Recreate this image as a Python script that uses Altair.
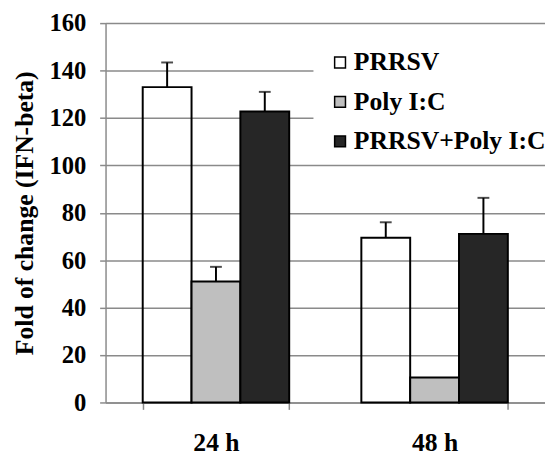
import altair as alt
import pandas as pd

times = ["24 h", "48 h"]
series = ["PRRSV", "Poly I:C", "PRRSV+Poly I:C"]
prrsv = [133.0, 69.5]
prrsv_err = [10.4, 6.5]
polyic = [51.0, 10.5]
polyic_err = [6.2, 0.0]
combo = [122.7, 71.1]
combo_err = [8.3, 15.2]
y_ticks = [0, 20, 40, 60, 80, 100, 120, 140, 160]
colors = ["transparent", "#bfbfbf", "#262626"]

rows = []
for s, vals, errs in [(series[0], prrsv, prrsv_err), (series[1], polyic, polyic_err), (series[2], combo, combo_err)]:
    for t, v, e in zip(times, vals, errs):
        rows.append({"time": t, "series": s, "value": v, "err": e, "top": v + e})
df = pd.DataFrame(rows)

FONT = "Liberation Serif, Times New Roman, Tinos, DejaVu Serif, serif"
GRAY = "#8a8a8a"

x = alt.X("time:N", sort=times, title=None,
          scale=alt.Scale(paddingInner=0.33, paddingOuter=0.17),
          axis=alt.Axis(labelAngle=0, labelFontSize=26, labelFont=FONT, labelFontWeight="bold",
                        labelColor="black", labelPadding=21, tickBand="extent", tickSize=7,
                        tickColor=GRAY, tickWidth=1.5, domainColor=GRAY, domainWidth=1.5))
xo = alt.XOffset("series:N", sort=series, scale=alt.Scale(paddingInner=0, paddingOuter=0))

bars = alt.Chart(df).mark_bar(stroke="black", strokeWidth=2).encode(
    x=x, xOffset=xo,
    y=alt.Y("value:Q", scale=alt.Scale(domain=[0, 160]), title="Fold of change (IFN-beta)",
            axis=alt.Axis(values=y_ticks, labelFontSize=25, labelFont=FONT, labelFontWeight="bold",
                          labelColor="black", labelPadding=14, tickSize=6, tickColor=GRAY, tickWidth=1.5,
                          domainColor=GRAY, domainWidth=1.5, grid=True, gridColor=GRAY, gridWidth=1.5,
                          titleFont=FONT, titleFontSize=26, titleFontWeight="bold", titleColor="black",
                          titlePadding=12)),
    color=alt.Color("series:N", sort=series,
                    scale=alt.Scale(domain=series, range=colors),
                    legend=alt.Legend(title=None, orient="none", legendX=211, legendY=21,
                                      fillColor="white", padding=6, symbolOffset=8,
                                      symbolType="square", symbolSize=121,
                                      symbolStrokeColor="black", symbolStrokeWidth=1.5,
                                      labelFont=FONT, labelFontSize=26, labelFontWeight="bold",
                                      labelColor="black", labelOffset=1, rowPadding=14,
                                      labelLimit=400)),
)

errdf = alt.Chart(df).transform_filter("datum.err > 0")
rules = errdf.mark_rule(color="black", strokeWidth=2).encode(
    x=x, xOffset=xo, y="value:Q", y2="top:Q")
caps = errdf.mark_tick(color="black", thickness=2, size=12).encode(
    x=x, xOffset=xo, y="top:Q")

chart = alt.layer(bars, rules, caps).properties(
    width=446, height=385,
    padding={"left": 99, "top": 12, "right": 0, "bottom": 51},
    autosize=alt.AutoSizeParams(type="none"),
).configure(font=FONT).configure_view(stroke=None).configure_axis(gridOpacity=1)

chart.save("out.html", embed_options={"renderer": "svg", "actions": False})
